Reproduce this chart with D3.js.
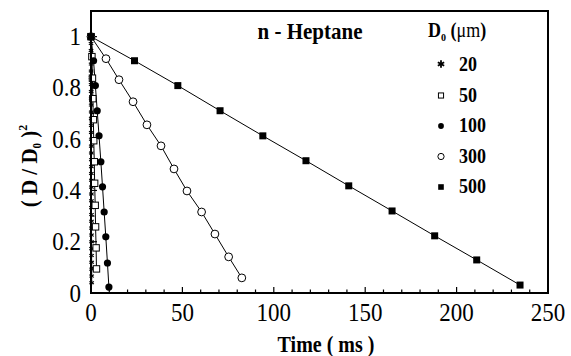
<!DOCTYPE html>
<html><head><meta charset="utf-8">
<script src="https://cdn.jsdelivr.net/npm/d3@7"></script>
</head>
<body style="margin:0;background:#fff">
<svg id="c" width="571" height="356"></svg>
<script>
// ---- data (time in ms, (D/D0)^2) ----
const xTicks = [0, 50, 100, 150, 200, 250];
const yTicks = [0, 0.2, 0.4, 0.6, 0.8, 1];
const legendLabels = ["20", "50", "100", "300", "500"];

const t20 = [0,0.01,0.02,0.03,0.04,0.05,0.06,0.07,0.08,0.09,0.1,0.11,0.12,0.13,0.14,0.15,0.16,0.17,0.18,0.19,0.2,0.21,0.22,0.23,0.24,0.25,0.26,0.27,0.28,0.29,0.3,0.31,0.32,0.33,0.34,0.35,0.36];
const y20 = [1,0.973,0.946,0.92,0.893,0.866,0.84,0.813,0.786,0.76,0.733,0.706,0.68,0.653,0.626,0.6,0.573,0.546,0.52,0.493,0.466,0.44,0.413,0.386,0.36,0.333,0.306,0.28,0.253,0.226,0.2,0.173,0.146,0.12,0.093,0.066,0.04];

const t50 = [0,0.5,0.8,1.0,1.3,1.5,1.8,2.0,2.3,2.5,2.8,3.0];
const y50 = [1,0.922,0.838,0.758,0.676,0.594,0.512,0.428,0.342,0.258,0.176,0.094];

const t100 = [0,1.4,2.4,3.4,4.4,5.4,6.3,7.2,8.1,9.0,9.8];
const y100 = [1,0.906,0.809,0.711,0.613,0.512,0.414,0.316,0.219,0.117,0.023];

const t300 = [0,8.2,15.3,23,30.6,38.3,45.4,52.5,60.5,67.8,75.3,82.5];
const y300 = [1,0.914,0.832,0.746,0.656,0.574,0.484,0.398,0.316,0.23,0.141,0.059];

const t500 = [0,23.8,47.5,70.6,94,117.6,141,164.7,188,211,234.7];
const y500 = [1,0.906,0.809,0.711,0.613,0.516,0.418,0.32,0.223,0.129,0.031];

// ---- drawing ----
const FONT = "Liberation Serif";
const SY = 1.12; // vertical stretch of the reference lettering
const svg = d3.select("#c");
const x = d3.scaleLinear().domain([0, 250]).range([91, 548]);
const y = d3.scaleLinear().domain([0, 1.1]).range([293, 11]);

const series = [
  {t: t20, v: y20, sym: "star"},
  {t: t50, v: y50, sym: "osq"},
  {t: t100, v: y100, sym: "fcirc"},
  {t: t300, v: y300, sym: "ocirc"},
  {t: t500, v: y500, sym: "fsq"}
];

function drawSym(g, sym, cx, cy, s, sw) {
  if (sym === "star") {
    const r = 2.6 * s;
    for (let k = 0; k < 3; k++) {
      const a = Math.PI / 2 + k * Math.PI / 3;
      g.append("line").attr("x1", cx - r*Math.cos(a)).attr("y1", cy - r*Math.sin(a))
        .attr("x2", cx + r*Math.cos(a)).attr("y2", cy + r*Math.sin(a))
        .attr("stroke", "#000").attr("stroke-width", sw || 1.1);
    }
  } else if (sym === "osq") {
    const h = 3.2 * s;
    g.append("rect").attr("x", cx - h).attr("y", cy - h).attr("width", 2*h).attr("height", 2*h)
      .attr("fill", "#fff").attr("stroke", "#000").attr("stroke-width", 1);
  } else if (sym === "fsq") {
    const h = 3.5 * s;
    g.append("rect").attr("x", cx - h).attr("y", cy - h).attr("width", 2*h).attr("height", 2*h)
      .attr("fill", "#000");
  } else if (sym === "fcirc") {
    g.append("circle").attr("cx", cx).attr("cy", cy).attr("r", 3.6 * s).attr("fill", "#000");
  } else if (sym === "ocirc") {
    g.append("circle").attr("cx", cx).attr("cy", cy).attr("r", 3.9 * s)
      .attr("fill", "#fff").attr("stroke", "#000").attr("stroke-width", 1);
  }
}

// text placed at (px,py) baseline, stretched vertically
function label(parent, px, py, size, bold, anchor, extra) {
  return parent.append("text")
    .attr("transform", `translate(${px},${py})${extra || ""} scale(1,${SY})`)
    .attr("font-family", FONT).attr("font-size", size)
    .attr("font-weight", bold ? "bold" : "normal").attr("fill", "#000")
    .attr("text-anchor", anchor || "start");
}

// ticks (inward)
const ax = svg.append("g");
const xMinor = d3.range(0, 251, 10);
ax.selectAll(".xm").data(xMinor).enter().append("line")
  .attr("x1", d => x(d)).attr("x2", d => x(d))
  .attr("y1", y(0)).attr("y2", d => y(0) - (d % 50 === 0 ? 6 : 3.5))
  .attr("stroke", "#000").attr("stroke-width", 1.2);
const yMinor = d3.range(0, 11).map(d => d / 10);
ax.selectAll(".ym").data(yMinor).enter().append("line")
  .attr("x1", x(0)).attr("x2", (d, i) => x(0) + (i % 2 === 0 ? 6 : 3.5))
  .attr("y1", d => y(d)).attr("y2", d => y(d))
  .attr("stroke", "#000").attr("stroke-width", 1.2);

// tick labels
xTicks.forEach(d => label(ax, x(d), 321, 23, false, "middle").text(d));
yTicks.forEach(d => label(ax, 81, y(d) + 8.5, 23, false, "end").text(d));

// lines and markers
const line = d3.line().x(d => x(d[0])).y(d => y(d[1]));
series.forEach(s => {
  const pts = s.t.map((t, i) => [t, s.v[i]]);
  svg.append("path").attr("d", line(pts)).attr("fill", "none")
    .attr("stroke", "#000").attr("stroke-width", 1);
});
series.forEach(s => {
  const g = svg.append("g");
  s.t.forEach((t, i) => drawSym(g, s.sym, x(t), y(s.v[i]), 1));
});

// frame
svg.append("rect").attr("x", 91).attr("y", 11).attr("width", 548 - 91).attr("height", 293 - 11)
  .attr("fill", "none").attr("stroke", "#000").attr("stroke-width", 2);

// title
label(svg, 310, 39, 21, true, "middle").text("n - Heptane");

// axis titles
label(svg, 326, 352, 20, true, "middle").text("Time ( ms )");

const yl = label(svg, 37, 166, 21, true, "middle", " rotate(-90)");
yl.append("tspan").text("( D / D");
yl.append("tspan").attr("dy", 4).attr("font-size", 11).text("0");
yl.append("tspan").attr("dy", -4).text(" )");
yl.append("tspan").attr("dy", -9).attr("font-size", 12).text("2");

// legend
const lh = label(svg, 428, 37, 18, true);
lh.append("tspan").text("D");
lh.append("tspan").attr("dy", 4).attr("font-size", 10).text("0");
lh.append("tspan").attr("dy", -4).text(" (");
lh.append("tspan").attr("font-weight", "normal").text("μm");
lh.append("tspan").text(")");

const lg = svg.append("g");
const rowBase = [71, 101.5, 132, 162.5, 193];
legendLabels.forEach((lab, i) => {
  label(lg, 459, rowBase[i], 18, true).text(lab);
  if (i === 0) drawSym(lg, "star", 441, rowBase[i] - 7, 1.4, 1.8);
  else drawSym(lg, series[i].sym, 441, rowBase[i] - 6, 0.8);
});
</script>
</body></html>
